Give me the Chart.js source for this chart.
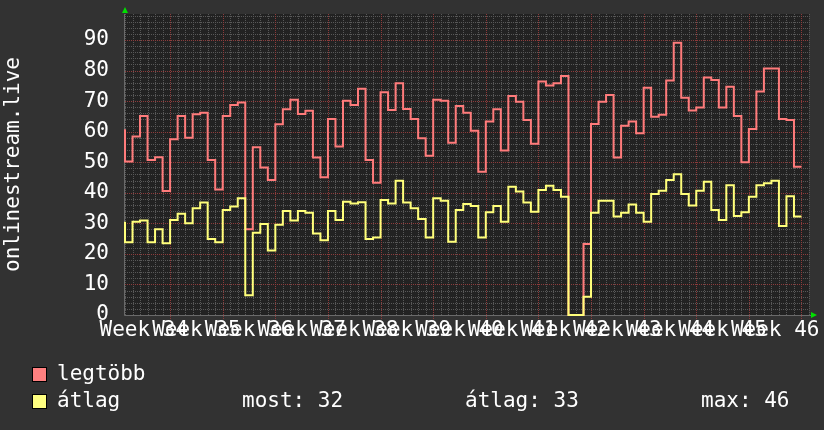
<!DOCTYPE html>
<html>
<head>
<meta charset="utf-8">
<script src="https://cdn.jsdelivr.net/npm/chart.js@4/dist/chart.umd.min.js"></script>
<style>
  html, body { margin: 0; padding: 0; background: #323232; }
  #wrap { width: 824px; height: 430px; }
</style>
</head>
<body>
<div id="wrap"><canvas id="streamChart" width="824" height="430"></canvas></div>
<script>
// one value per day (day 0 = 6 days before the first week line)
const weekLabels = ['Week 34', 'Week 35', 'Week 36', 'Week 37', 'Week 38', 'Week 39', 'Week 40',
                    'Week 41', 'Week 42', 'Week 43', 'Week 44', 'Week 45', 'Week 46'];

const maxStart = 60.8;
const maxValues = [
  50.2, 58.4, 65.1, 50.7, 51.6, 40.6, 57.5, 65.1, 58.0, 65.7,
  66.2, 50.7, 41.1, 65.1, 68.7, 69.5, 28.1, 54.9, 48.3, 44.2,
  62.4, 67.3, 70.4, 65.8, 66.8, 51.5, 45.1, 64.1, 55.1, 70.1,
  68.7, 74.0, 50.7, 43.3, 72.9, 67.1, 75.8, 67.4, 64.1, 57.8,
  52.1, 70.4, 70.1, 56.4, 68.4, 66.2, 60.3, 46.9, 63.3, 67.3,
  53.8, 71.7, 69.8, 63.8, 56.0, 76.4, 75.1, 75.8, 78.2, 0,
  0, 23.2, 62.5, 69.8, 72.0, 51.5, 61.9, 63.3, 59.5, 74.4,
  64.9, 65.5, 76.7, 89.1, 71.1, 66.9, 67.9, 77.7, 76.9, 67.9,
  74.7, 65.1, 50.0, 60.9, 73.1, 80.7, 80.7, 64.1, 63.8, 48.5
];

const avgStart = 30.5;
const avgValues = [
  23.8, 30.5, 30.9, 23.8, 28.1, 23.5, 31.1, 33.1, 30.0, 34.9,
  36.8, 24.9, 23.8, 34.4, 35.5, 38.2, 6.5, 26.9, 29.8, 21.1,
  29.5, 34.0, 30.9, 34.0, 33.5, 26.7, 24.5, 34.0, 31.1, 37.1,
  36.5, 36.9, 24.9, 25.4, 37.6, 36.5, 43.9, 36.8, 34.9, 31.4,
  25.4, 38.2, 37.4, 24.0, 34.4, 36.3, 35.7, 25.4, 33.6, 35.7,
  30.5, 42.0, 40.4, 36.8, 33.8, 40.9, 42.3, 40.9, 38.7, 0,
  0, 6.0, 33.5, 37.4, 37.4, 32.2, 33.5, 36.2, 33.5, 30.5,
  39.6, 40.7, 44.2, 46.1, 39.6, 35.8, 40.7, 43.6, 34.4, 31.1,
  42.5, 32.4, 33.6, 38.7, 42.5, 43.1, 43.9, 29.1, 38.9, 32.2
];

const legendStats = ['most: 32', 'átlag: 33', 'max: 46'];

const FONT = '"DejaVu Sans Mono", "Liberation Mono", monospace';
const RED = '#ff7b7b';
const YELLOW = '#ffff7a';
const GRID_MINOR = '#585858';
const GRID_MAJOR = '#8e3b3b';

// points sit at the end of each day, stepped 'after' holds the value over the day
function toPoints(start, values) {
    const pts = [{ x: 0, y: start }];
    values.forEach((v, i) => pts.push({ x: i + 1, y: v }));
    return pts;
}

const rrdPlugin = {
    id: 'rrdLook',
    beforeDraw(chart) {
        const { ctx, chartArea: a } = chart;
        ctx.save();
        ctx.fillStyle = '#323232';
        ctx.fillRect(0, 0, chart.width, chart.height);
        ctx.fillStyle = '#222222';
        ctx.fillRect(a.left, a.top, a.right - a.left, a.bottom - a.top);
        ctx.restore();
    },
    beforeDatasetsDraw(chart) {
        // dotted rrd style grid: one line per day / per 2 units, red every week / every 10
        const { ctx, chartArea: a, scales: { x, y } } = chart;
        ctx.save();
        ctx.lineWidth = 1;
        ctx.setLineDash([1, 1]);
        ctx.strokeStyle = GRID_MINOR;
        for (let d = 0; d <= 91; d++) {
            if ((d - 6) % 7 === 0) continue;
            const px = Math.round(x.getPixelForValue(d)) + 0.5;
            ctx.beginPath();
            ctx.moveTo(px, a.top);
            ctx.lineTo(px, a.bottom);
            ctx.stroke();
        }
        for (let v = 2; v <= 98; v += 2) {
            if (v % 10 === 0) continue;
            const py = Math.round(y.getPixelForValue(v)) + 0.5;
            ctx.beginPath();
            ctx.moveTo(a.left, py);
            ctx.lineTo(a.right, py);
            ctx.stroke();
        }
        // major lines go on top of the minor ones
        ctx.strokeStyle = GRID_MAJOR;
        for (let d = 6; d <= 91; d += 7) {
            const px = Math.round(x.getPixelForValue(d)) + 0.5;
            ctx.beginPath();
            ctx.moveTo(px, a.top);
            ctx.lineTo(px, a.bottom + 4);
            ctx.stroke();
        }
        for (let v = 10; v <= 90; v += 10) {
            const py = Math.round(y.getPixelForValue(v)) + 0.5;
            ctx.beginPath();
            ctx.moveTo(a.left, py);
            ctx.lineTo(a.right, py);
            ctx.stroke();
        }
        // axes
        ctx.setLineDash([]);
        ctx.strokeStyle = '#6a6a6a';
        ctx.beginPath();
        ctx.moveTo(a.left - 0.5, a.top);
        ctx.lineTo(a.left - 0.5, a.bottom + 0.5);
        ctx.lineTo(a.right + 2, a.bottom + 0.5);
        ctx.stroke();
        ctx.restore();
    },
    afterDraw(chart) {
        const { ctx, chartArea: a } = chart;
        ctx.save();
        // little green arrows at the axis ends
        ctx.fillStyle = '#00e000';
        ctx.beginPath();
        ctx.moveTo(a.left - 3, 13);
        ctx.lineTo(a.left + 3, 13);
        ctx.lineTo(a.left, 7);
        ctx.closePath();
        ctx.fill();
        ctx.beginPath();
        ctx.moveTo(a.right + 2, a.bottom - 3);
        ctx.lineTo(a.right + 2, a.bottom + 3);
        ctx.lineTo(a.right + 8, a.bottom);
        ctx.closePath();
        ctx.fill();

        // legend
        ctx.font = '21px ' + FONT;
        ctx.textBaseline = 'middle';
        ctx.lineWidth = 1;
        ctx.strokeStyle = '#000';
        ctx.fillStyle = '#ff8080';
        ctx.fillRect(32, 367, 14, 14);
        ctx.strokeRect(32.5, 367.5, 14, 14);
        ctx.fillStyle = '#ffff80';
        ctx.fillRect(32, 394, 14, 14);
        ctx.strokeRect(32.5, 394.5, 14, 14);
        ctx.fillStyle = '#ffffff';
        ctx.fillText('legtöbb', 57, 375);
        ctx.fillText('átlag', 57, 402);
        ctx.fillText(legendStats[0], 242, 402);
        ctx.fillText(legendStats[1], 465, 402);
        ctx.fillText(legendStats[2], 701, 402);
        ctx.restore();
    }
};

const ctx = document.getElementById('streamChart').getContext('2d');
new Chart(ctx, {
    type: 'line',
    data: {
        datasets: [{
            label: 'legtöbb',
            data: toPoints(maxStart, maxValues),
            borderColor: RED,
            borderWidth: 2,
            stepped: 'after',
            pointRadius: 0,
            order: 1,
            clip: 4
        }, {
            label: 'átlag',
            data: toPoints(avgStart, avgValues),
            borderColor: YELLOW,
            borderWidth: 2,
            stepped: 'after',
            pointRadius: 0,
            order: 0,
            clip: 4
        }]
    },
    options: {
        responsive: false,
        devicePixelRatio: 1,
        animation: false,
        layout: { padding: { top: 14, right: 15, bottom: 85, left: 0 } },
        plugins: {
            legend: { display: false },
            tooltip: { enabled: false }
        },
        scales: {
            x: {
                type: 'linear',
                min: 0,
                max: 91,
                afterBuildTicks: (axis) => {
                    axis.ticks = weekLabels.map((_, k) => ({ value: 2.5 + 7 * k }));
                },
                afterFit: (scale) => {
                    scale.height = 30;
                    scale.paddingLeft = 0;
                    scale.paddingRight = 0;
                },
                ticks: {
                    autoSkip: false,
                    maxRotation: 0,
                    minRotation: 0,
                    padding: 3,
                    color: '#ffffff',
                    font: { family: FONT, size: 21 },
                    callback: (value) => weekLabels[Math.round((value - 2.5) / 7)]
                },
                grid: { display: false, drawTicks: false },
                border: { display: false }
            },
            y: {
                min: 0,
                max: 98.5,
                afterBuildTicks: (axis) => {
                    const t = [];
                    for (let v = 0; v <= 90; v += 10) t.push({ value: v });
                    axis.ticks = t;
                },
                afterFit: (scale) => {
                    scale.width = 125;
                    scale.paddingTop = 0;
                    scale.paddingBottom = 0;
                },
                ticks: {
                    autoSkip: false,
                    padding: 16,
                    color: '#ffffff',
                    font: { family: FONT, size: 21 }
                },
                grid: { display: false, drawTicks: false },
                border: { display: false },
                title: {
                    display: true,
                    text: 'onlinestream.live',
                    color: '#ffffff',
                    font: { family: FONT, size: 21 },
                    padding: { top: 1, bottom: 0 }
                }
            }
        }
    },
    plugins: [rrdPlugin]
});
</script>
</body>
</html>
